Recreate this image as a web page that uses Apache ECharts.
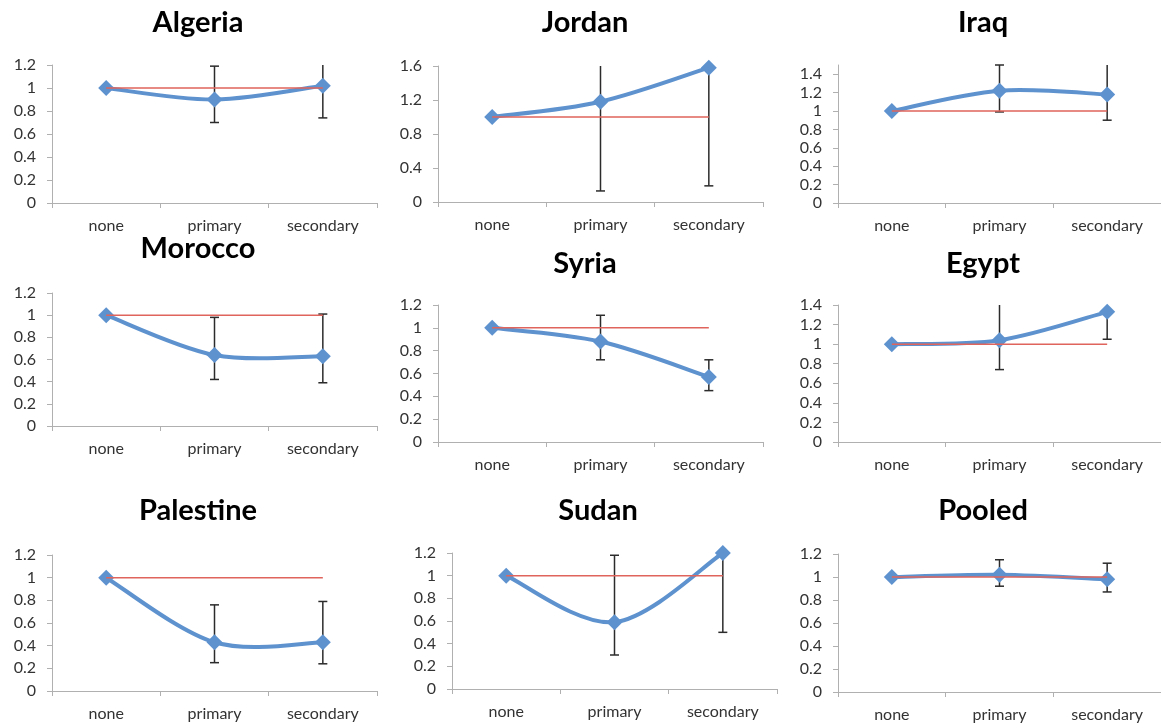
<!DOCTYPE html>
<html>
<head>
<meta charset="utf-8">
<script src="https://cdn.jsdelivr.net/npm/echarts@6/dist/echarts.min.js"></script>
<style>
html,body{margin:0;padding:0;background:#fff;}
#chart{width:1161px;height:727px;}
</style>
</head>
<body>
<div id="chart"></div>
<script>
// ---- data ----
const categories = ['none', 'primary', 'secondary'];
const countries = ['Algeria', 'Jordan', 'Iraq', 'Morocco', 'Syria', 'Egypt', 'Palestine', 'Sudan', 'Pooled'];

const algeriaOR  = [1, 0.90, 1.02];
const algeriaLow = [null, 0.70, 0.74];
const algeriaHigh= [null, 1.19, 1.30];

const jordanOR   = [1, 1.18, 1.58];
const jordanLow  = [null, 0.13, 0.19];
const jordanHigh = [null, 1.90, 2.20];

const iraqOR     = [1, 1.22, 1.18];
const iraqLow    = [null, 0.99, 0.90];
const iraqHigh   = [null, 1.50, 1.70];

const moroccoOR  = [1, 0.64, 0.63];
const moroccoLow = [null, 0.42, 0.39];
const moroccoHigh= [null, 0.98, 1.01];

const syriaOR    = [1, 0.88, 0.57];
const syriaLow   = [null, 0.72, 0.45];
const syriaHigh  = [null, 1.11, 0.72];

const egyptOR    = [1, 1.04, 1.33];
const egyptLow   = [null, 0.74, 1.05];
const egyptHigh  = [null, 1.50, 1.60];

const palestineOR  = [1, 0.43, 0.43];
const palestineLow = [null, 0.25, 0.24];
const palestineHigh= [null, 0.76, 0.79];

const sudanOR    = [1, 0.59, 1.20];
const sudanLow   = [null, 0.30, 0.50];
const sudanHigh  = [null, 1.18, 1.40];

const pooledOR   = [1, 1.02, 0.98];
const pooledLow  = [null, 0.92, 0.87];
const pooledHigh = [null, 1.15, 1.12];

const referenceLine = [1, 1, 1];

const axisMax      = [1.2, 1.6, 1.5, 1.2, 1.2, 1.4, 1.2, 1.2, 1.2];
const axisInterval = [0.2, 0.4, 0.2, 0.2, 0.2, 0.2, 0.2, 0.2, 0.2];

const panelOR   = [algeriaOR, jordanOR, iraqOR, moroccoOR, syriaOR, egyptOR, palestineOR, sudanOR, pooledOR];
const panelLow  = [algeriaLow, jordanLow, iraqLow, moroccoLow, syriaLow, egyptLow, palestineLow, sudanLow, pooledLow];
const panelHigh = [algeriaHigh, jordanHigh, iraqHigh, moroccoHigh, syriaHigh, egyptHigh, palestineHigh, sudanHigh, pooledHigh];

// ---- layout ----
const grids = [
  {left: 52,  top: 65,  width: 325, height: 138},
  {left: 438, top: 66,  width: 325, height: 136},
  {left: 838, top: 65,  width: 325, height: 138},
  {left: 52,  top: 293, width: 325, height: 133},
  {left: 438, top: 305, width: 325, height: 137},
  {left: 838, top: 305, width: 325, height: 137},
  {left: 52,  top: 555, width: 325, height: 136},
  {left: 452, top: 553, width: 325, height: 136},
  {left: 838, top: 554, width: 325, height: 138}
];
const titlePos = [[198,23],[585,23],[983,23],[198,249],[585,264],[983,264],[198,511],[598,511],[983,511]];

const BLUE = '#5d92cf', RED = '#e0645c', AXIS = '#b0b0b0', TEXT = '#333333';
const FONT = 'Lato';

const option = {
  animation: false,
  backgroundColor: '#fff',
  title: countries.map((c, i) => ({
    text: c, left: titlePos[i][0], top: titlePos[i][1] - 17, textAlign: 'center', padding: 0,
    textStyle: {fontFamily: FONT, fontWeight: 'bold', fontSize: 29, color: '#000', lineHeight: 34}
  })),
  grid: grids.map(g => Object.assign({containLabel: false}, g)),
  xAxis: grids.map((g, i) => ({
    type: 'category', gridIndex: i, data: categories, boundaryGap: true,
    axisLine: {lineStyle: {color: AXIS, width: 1}},
    axisTick: {show: true, length: 5, lineStyle: {color: AXIS}},
    axisLabel: {fontFamily: FONT, fontSize: 16, color: TEXT, margin: 15},
    splitLine: {show: false}
  })),
  yAxis: grids.map((g, i) => ({
    type: 'value', gridIndex: i, min: 0, max: axisMax[i], interval: axisInterval[i],
    axisLine: {show: true, lineStyle: {color: AXIS, width: 1}},
    axisTick: {show: true, length: 5, lineStyle: {color: AXIS}},
    axisLabel: {fontFamily: FONT, fontSize: 16, color: TEXT, margin: 16, showMaxLabel: i === 2 ? false : true,
      formatter: v => String(Math.round(v * 10) / 10)},
    splitLine: {show: false}
  })),
  series: []
};

countries.forEach((c, i) => {
  const vals = panelOR[i];
  const maxV = axisMax[i];
  // error bars (behind markers)
  const ebData = [];
  for (let k = 0; k < categories.length; k++) {
    if (panelLow[i][k] != null) ebData.push([k, panelLow[i][k], panelHigh[i][k]]);
  }
  option.series.push({
    type: 'custom', name: c + ' err', xAxisIndex: i, yAxisIndex: i, data: ebData, z: 1,
    renderItem: (params, api) => {
      const x = api.value(0);
      const lo = api.value(1);
      const hi = api.value(2);
      const clipped = hi > maxV;
      const pLo = api.coord([x, lo]);
      const pHi = api.coord([x, Math.min(hi, maxV)]);
      const w = 4.5;
      const style = {stroke: '#2b2b2b', lineWidth: 1.5};
      const children = [
        {type: 'line', shape: {x1: pLo[0], y1: pLo[1], x2: pHi[0], y2: pHi[1]}, style},
        {type: 'line', shape: {x1: pLo[0] - w, y1: pLo[1], x2: pLo[0] + w, y2: pLo[1]}, style}
      ];
      if (!clipped) children.push({type: 'line', shape: {x1: pHi[0] - w, y1: pHi[1], x2: pHi[0] + w, y2: pHi[1]}, style});
      return {type: 'group', children};
    }
  });
  // smoothed curve (Excel-style cardinal spline through the points)
  option.series.push({
    type: 'custom', name: c + ' curve', xAxisIndex: i, yAxisIndex: i, data: [[0, vals[0]]], z: 2,
    renderItem: (params, api) => {
      const pts = vals.map((v, k) => api.coord([k, v]));
      let d = 'M' + pts[0][0] + ' ' + pts[0][1];
      for (let k = 0; k < pts.length - 1; k++) {
        const p0 = pts[Math.max(k - 1, 0)], p1 = pts[k], p2 = pts[k + 1], p3 = pts[Math.min(k + 2, pts.length - 1)];
        const c1 = [p1[0] + (p2[0] - p0[0]) / 6, p1[1] + (p2[1] - p0[1]) / 6];
        const c2 = [p2[0] - (p3[0] - p1[0]) / 6, p2[1] - (p3[1] - p1[1]) / 6];
        d += ' C' + c1[0] + ' ' + c1[1] + ' ' + c2[0] + ' ' + c2[1] + ' ' + p2[0] + ' ' + p2[1];
      }
      return {type: 'path', shape: {pathData: d}, style: {fill: 'none', stroke: BLUE, lineWidth: 4, lineJoin: 'round'}};
    }
  });
  // markers
  option.series.push({
    type: 'line', name: c, xAxisIndex: i, yAxisIndex: i, data: vals,
    symbol: 'diamond', symbolSize: 16, lineStyle: {width: 0, opacity: 0},
    itemStyle: {color: BLUE}, z: 3
  });
  // reference line at 1
  option.series.push({
    type: 'line', name: c + ' ref', xAxisIndex: i, yAxisIndex: i, data: referenceLine,
    symbol: 'none', lineStyle: {color: RED, width: 1.5}, z: 4
  });
});

const chart = echarts.init(document.getElementById('chart'), null, {renderer: 'canvas'});
chart.setOption(option);
</script>
</body>
</html>
